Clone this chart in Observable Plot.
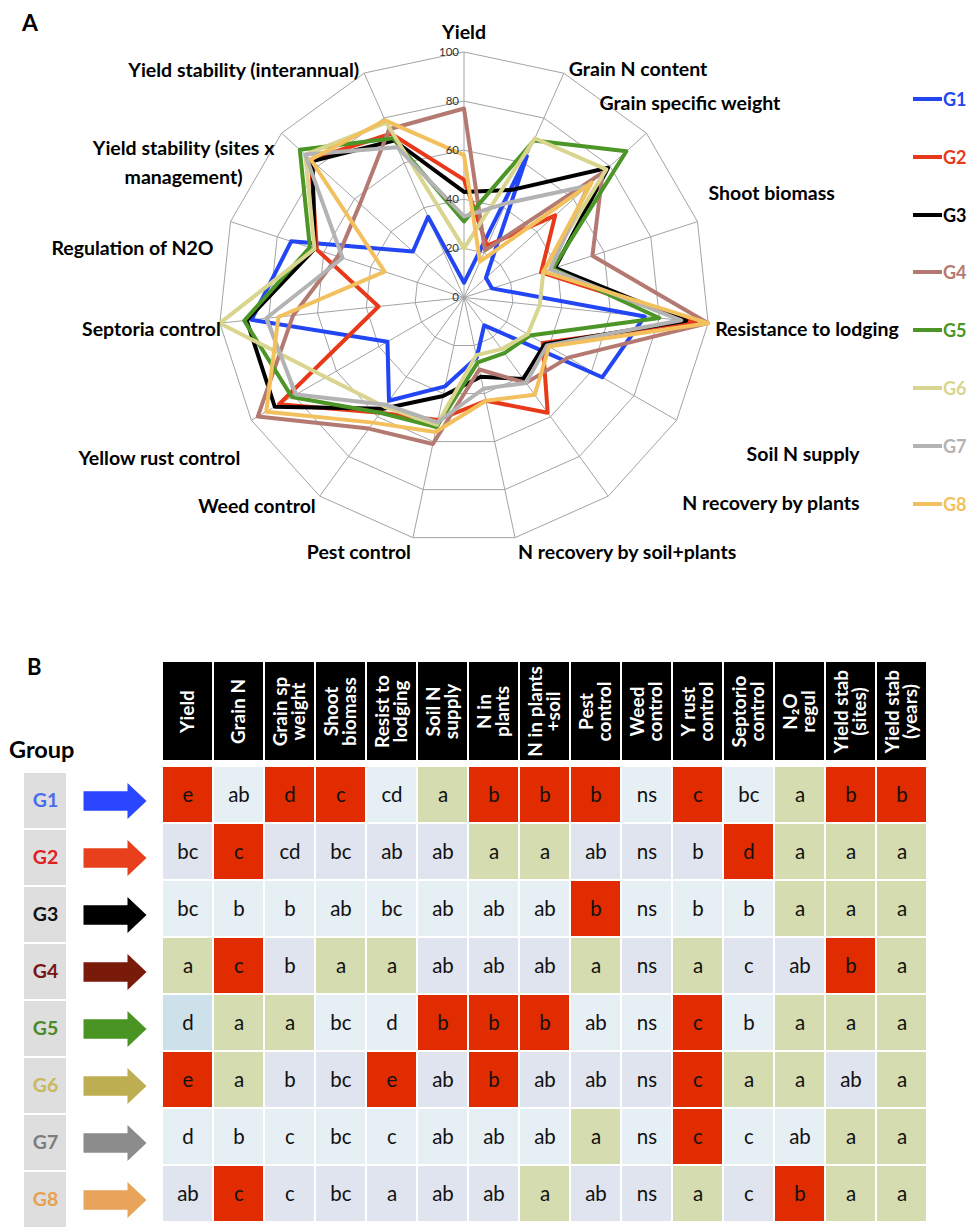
<!DOCTYPE html>
<html>
<head>
<meta charset="utf-8">
<script src="https://cdn.jsdelivr.net/npm/d3@7"></script>
<script src="https://cdn.jsdelivr.net/npm/@observablehq/plot@0.6"></script>
<style>
  body { margin: 0; background: #fff; font-family: Lato, "Open Sans", sans-serif; }
  #page { position: relative; width: 978px; height: 1227px; overflow: hidden; background: #fff; }
  .abs { position: absolute; }
  .abs svg { display: block; overflow: visible; }
  .panel { font-weight: bold; color: #000; line-height: 1; }
  #legend .row { position: absolute; left: 0; display: flex; align-items: center; height: 20px; }
  #legend .sw { width: 29px; height: 4px; }
  #legend .lab { font-weight: bold; font-size: 18px; line-height: 1; margin-left: 1px; }
</style>
</head>
<body>
<div id="page">
  <div class="abs panel" style="left:22px;top:11px;font-size:23px;">A</div>
  <div class="abs panel" style="left:27px;top:656px;font-size:22px;">B</div>
  <div class="abs panel" style="left:9px;top:738px;font-size:23.5px;">Group</div>
  <div id="radar" class="abs" style="left:0;top:0;"></div>
  <div id="legend" class="abs" style="left:913px;top:0;width:65px;height:540px;"></div>
  <div id="header" class="abs" style="left:0;top:661px;"></div>
  <div id="body" class="abs" style="left:0;top:764px;"></div>
  <div id="gbox" class="abs" style="left:23px;top:770px;"></div>
  <div id="garrow" class="abs" style="left:83px;top:770px;"></div>
</div>
<script>
// ---------------- Data: panel A (radar) ----------------
const axes = [
  "Yield", "Grain N content", "Grain specific weight", "Shoot biomass",
  "Resistance to lodging", "Soil N supply", "N recovery by plants",
  "N recovery by soil+plants", "Pest control", "Weed control",
  "Yellow rust control", "Septoria control", "Regulation of N2O",
  "Yield stability (sites x management)", "Yield stability (interannual)"
];
const groups = ["G1", "G2", "G3", "G4", "G5", "G6", "G7", "G8"];
const G1 = [6, 63, 12, 12, 74, 65, 14, 25, 37, 52, 36, 87, 74, 28, 36];
const G2 = [48, 23, 50, 33, 95, 37, 58, 43, 51, 58, 87, 35, 63, 84, 73];
const G3 = [43, 48, 79, 39, 91, 38, 41, 33, 41, 56, 89, 89, 64, 83, 70];
const G4 = [77, 21, 76, 55, 100, 49, 43, 30, 61, 66, 97, 70, 54, 57, 75];
const G5 = [31, 70, 89, 38, 80, 31, 28, 27, 54, 58, 81, 90, 66, 90, 71];
const G6 = [20, 71, 78, 34, 31, 30, 26, 24, 53, 55, 65, 100, 64, 87, 78];
const G7 = [33, 42, 68, 37, 89, 39, 43, 38, 52, 54, 79, 81, 52, 87, 67];
const G8 = [58, 16, 70, 34, 100, 40, 49, 43, 56, 63, 93, 76, 34, 84, 79];
const seriesValues = [G1, G2, G3, G4, G5, G6, G7, G8];
const ringTicks = [0, 20, 40, 60, 80, 100];

// ---------------- Data: panel B (table) ----------------
const columns = [
  "Yield", "Grain N", "Grain sp weight", "Shoot biomass", "Resist to lodging",
  "Soil N supply", "N in plants", "N in plants +soil", "Pest control",
  "Weed control", "Y rust control", "Septorio control", "N2O regul",
  "Yield stab (sites)", "Yield stab (years)"
];
const headerLabels = [
  "Yield", "Grain N", "Grain sp\nweight", "Shoot\nbiomass", "Resist to\nlodging",
  "Soil N\nsupply", "N in\nplants", "N in plants\n+soil", "Pest\ncontrol",
  "Weed\ncontrol", "Y rust\ncontrol", "Septorio\ncontrol", "N\u2082O\nregul",
  "Yield stab\n(sites)", "Yield stab\n(years)"
];
const letters = [
  ["e", "ab", "d", "c", "cd", "a", "b", "b", "b", "ns", "c", "bc", "a", "b", "b"],
  ["bc", "c", "cd", "bc", "ab", "ab", "a", "a", "ab", "ns", "b", "d", "a", "a", "a"],
  ["bc", "b", "b", "ab", "bc", "ab", "ab", "ab", "b", "ns", "b", "b", "a", "a", "a"],
  ["a", "c", "b", "a", "a", "ab", "ab", "ab", "a", "ns", "a", "c", "ab", "b", "a"],
  ["d", "a", "a", "bc", "d", "b", "b", "b", "ab", "ns", "c", "b", "a", "a", "a"],
  ["e", "a", "b", "bc", "e", "ab", "b", "ab", "ab", "ns", "c", "a", "a", "ab", "a"],
  ["d", "b", "c", "bc", "c", "ab", "ab", "ab", "a", "ns", "c", "c", "ab", "a", "a"],
  ["ab", "c", "c", "bc", "a", "ab", "ab", "a", "ab", "ns", "a", "c", "b", "a", "a"]
];
// R = worst (red), G = best (green), L = intermediate, D = darker intermediate
const shades = [
  ["R", "L", "R", "R", "L", "G", "R", "R", "R", "L", "R", "L", "G", "R", "R"],
  ["L", "R", "L", "L", "L", "L", "G", "G", "L", "L", "L", "R", "G", "G", "G"],
  ["L", "L", "L", "L", "L", "L", "L", "L", "R", "L", "L", "L", "G", "G", "G"],
  ["G", "R", "L", "G", "G", "L", "L", "L", "G", "L", "G", "L", "L", "R", "G"],
  ["D", "G", "G", "L", "L", "R", "R", "R", "L", "L", "R", "L", "G", "G", "G"],
  ["R", "G", "L", "L", "R", "L", "R", "L", "L", "L", "R", "G", "G", "L", "G"],
  ["L", "L", "L", "L", "L", "L", "L", "L", "G", "L", "R", "L", "L", "G", "G"],
  ["L", "R", "L", "L", "L", "L", "L", "G", "L", "L", "G", "L", "R", "G", "G"]
];

// ---------------- Styles ----------------
const lineColors = ["#2346f5", "#e8391a", "#000000", "#b47a72", "#4b9626", "#d9d58e", "#b3b3b3", "#f3c05e"];
const legendTextColors = ["#2346f5", "#e8391a", "#000000", "#b47a72", "#4b9626", "#d9d58e", "#b3b3b3", "#f3c05e"];
const groupLabelColors = ["#4a6cf0", "#e02020", "#111111", "#7a1414", "#4a8a28", "#cbb85a", "#7d7d7d", "#e8a050"];
const arrowColors = ["#2a46ff", "#e8401c", "#000000", "#7a1a0a", "#4a9424", "#bdae52", "#8c8c8c", "#e8a45a"];
const FONT = "Lato, 'Open Sans', sans-serif";

// ---------------- Panel A: radar ----------------
const nAx = axes.length;
const ang = i => i * 2 * Math.PI / nAx;
const points = groups.flatMap((g, gi) =>
  seriesValues[gi].map((v, i) => ({group: g, axis: axes[i], value: v, a: ang(i)})));
const grid = ringTicks.filter(t => t > 0).flatMap(t =>
  axes.map((ax, i) => ({ring: t, a: ang(i)})));
const spokes = axes.map((ax, i) => ({axis: ax, a: ang(i)}));
const outer = d3.max(ringTicks);

// label placement (text anchor and pixel nudges relative to the outer ring)
const labelLayout = [
  ["middle", 0, -22], ["start", 5, -7], ["start", -47, -33], ["start", 11, -31],
  ["start", 7, 3], ["start", 70, 31], ["start", 74, 5], ["start", 3, 12],
  ["end", -2, 12], ["end", -4, 8], ["end", -11, 35], ["end", 1, 3],
  ["end", -17, 24], ["middle", -98, 27], ["end", -5, -6]
];
const labelText = t => t === "Yield stability (sites x management)" ? "Yield stability (sites x\nmanagement)" : t;

const cx = 463.5, cy = 297, R = 245.5;
const radar = Plot.plot({
  width: 978, height: 600,
  marginTop: 0, marginRight: 0, marginBottom: 0, marginLeft: 0,
  style: {fontFamily: FONT, background: "transparent"},
  x: {type: "linear", domain: [-outer, outer], range: [cx - R, cx + R], axis: null},
  y: {type: "linear", domain: [-outer, outer], range: [cy + R, cy - R], axis: null},
  color: {domain: groups, range: lineColors},
  marks: [
    Plot.line(grid, {x: d => d.ring * Math.sin(d.a), y: d => d.ring * Math.cos(d.a), z: "ring",
      curve: "linear-closed", stroke: "#a3a3a3", strokeWidth: 1}),
    Plot.link(spokes, {x1: 0, y1: 0, x2: d => outer * Math.sin(d.a), y2: d => outer * Math.cos(d.a),
      stroke: "#a3a3a3", strokeWidth: 1}),
    Plot.line(points, {x: d => d.value * Math.sin(d.a), y: d => d.value * Math.cos(d.a), z: "group",
      stroke: "group", curve: "linear-closed", strokeWidth: 4, strokeLinejoin: "round"}),
    Plot.text(ringTicks, {x: 0, y: d => d, text: d => String(d), textAnchor: "end", dx: -5,
      fontSize: 11.5, fill: "#333"}),
    ...axes.map((ax, i) => Plot.text([ax], {
      x: outer * Math.sin(ang(i)), y: outer * Math.cos(ang(i)), text: labelText,
      textAnchor: labelLayout[i][0], dx: labelLayout[i][1], dy: labelLayout[i][2],
      fontSize: 19.5, fontWeight: "bold", fill: "#000", lineHeight: 1.5
    }))
  ]
});
document.getElementById("radar").appendChild(radar);

// legend (HTML)
const legend = document.getElementById("legend");
groups.forEach((g, i) => {
  const row = document.createElement("div");
  row.className = "row";
  row.style.top = (89 + i * 57.8) + "px";
  row.innerHTML = `<div class="sw" style="background:${lineColors[i]}"></div><div class="lab" style="color:${legendTextColors[i]}">${g}</div>`;
  legend.appendChild(row);
});

// ---------------- Panel B: table ----------------
const tableX = {type: "band", domain: columns, range: [157, 931], padding: 0, axis: null};

const header = Plot.plot({
  width: 978, height: 100,
  marginTop: 0, marginRight: 0, marginBottom: 0, marginLeft: 0,
  style: {fontFamily: FONT, background: "transparent"},
  x: tableX,
  marks: [
    Plot.cell(columns, {x: d => d, fill: "#000", inset: 1}),
    Plot.text(columns, {x: d => d, text: (d, i) => headerLabels[i], rotate: -90,
      fill: "#fff", fontWeight: "bold", fontSize: 19, lineHeight: 0.95})
  ]
});
document.getElementById("header").appendChild(header);

const cells = groups.flatMap((g, r) => columns.map((c, j) =>
  ({group: g, col: c, row: r, letter: letters[r][j], shade: shades[r][j]})));
const shadeColor = d =>
  d.shade === "R" ? "#e02c00" :
  d.shade === "G" ? "#d5dcaf" :
  d.shade === "D" ? "#cde1ea" :
  (d.row % 2 === 0 ? "#e5eff4" : "#dfe4ee");

const tableY = {type: "band", domain: groups, range: [0, 459], padding: 0, axis: null};
const body = Plot.plot({
  width: 978, height: 462,
  marginTop: 0, marginRight: 0, marginBottom: 0, marginLeft: 0,
  style: {fontFamily: FONT, background: "transparent"},
  x: tableX, y: tableY,
  marks: [
    Plot.cell(cells, {x: "col", y: "group", fill: shadeColor, inset: 1}),
    Plot.text(cells, {x: "col", y: "group", text: "letter", fontSize: 20.5, fill: "#111"})
  ]
});
document.getElementById("body").appendChild(body);

const gbox = Plot.plot({
  width: 44, height: 462,
  marginTop: 0, marginRight: 0, marginBottom: 0, marginLeft: 0,
  style: {fontFamily: FONT, background: "transparent"},
  y: tableY,
  marks: [
    Plot.cell(groups, {y: d => d, fill: "#dedede", inset: 1}),
    Plot.text(groups, {y: d => d, text: d => d, fill: (d, i) => groupLabelColors[i],
      fontWeight: "bold", fontSize: 19.5})
  ]
});
document.getElementById("gbox").appendChild(gbox);

const blockArrow = {
  draw(context, l) {
    const sw = 9.7, hw = 18, hl = 19;
    context.moveTo(-sw, 0);
    context.lineTo(-sw, -(l - hl));
    context.lineTo(-hw, -(l - hl));
    context.lineTo(0, -l);
    context.lineTo(hw, -(l - hl));
    context.lineTo(sw, -(l - hl));
    context.lineTo(sw, 0);
    context.closePath();
  }
};
const garrow = Plot.plot({
  width: 64, height: 462,
  marginTop: 0, marginRight: 0, marginBottom: 0, marginLeft: 0,
  style: {background: "transparent"},
  y: tableY,
  marks: [
    Plot.vector(groups, {y: d => d, frameAnchor: "left", rotate: 90, length: 63, anchor: "start",
      shape: blockArrow, fill: (d, i) => arrowColors[i], stroke: "none"})
  ]
});
document.getElementById("garrow").appendChild(garrow);
</script>
</body>
</html>
